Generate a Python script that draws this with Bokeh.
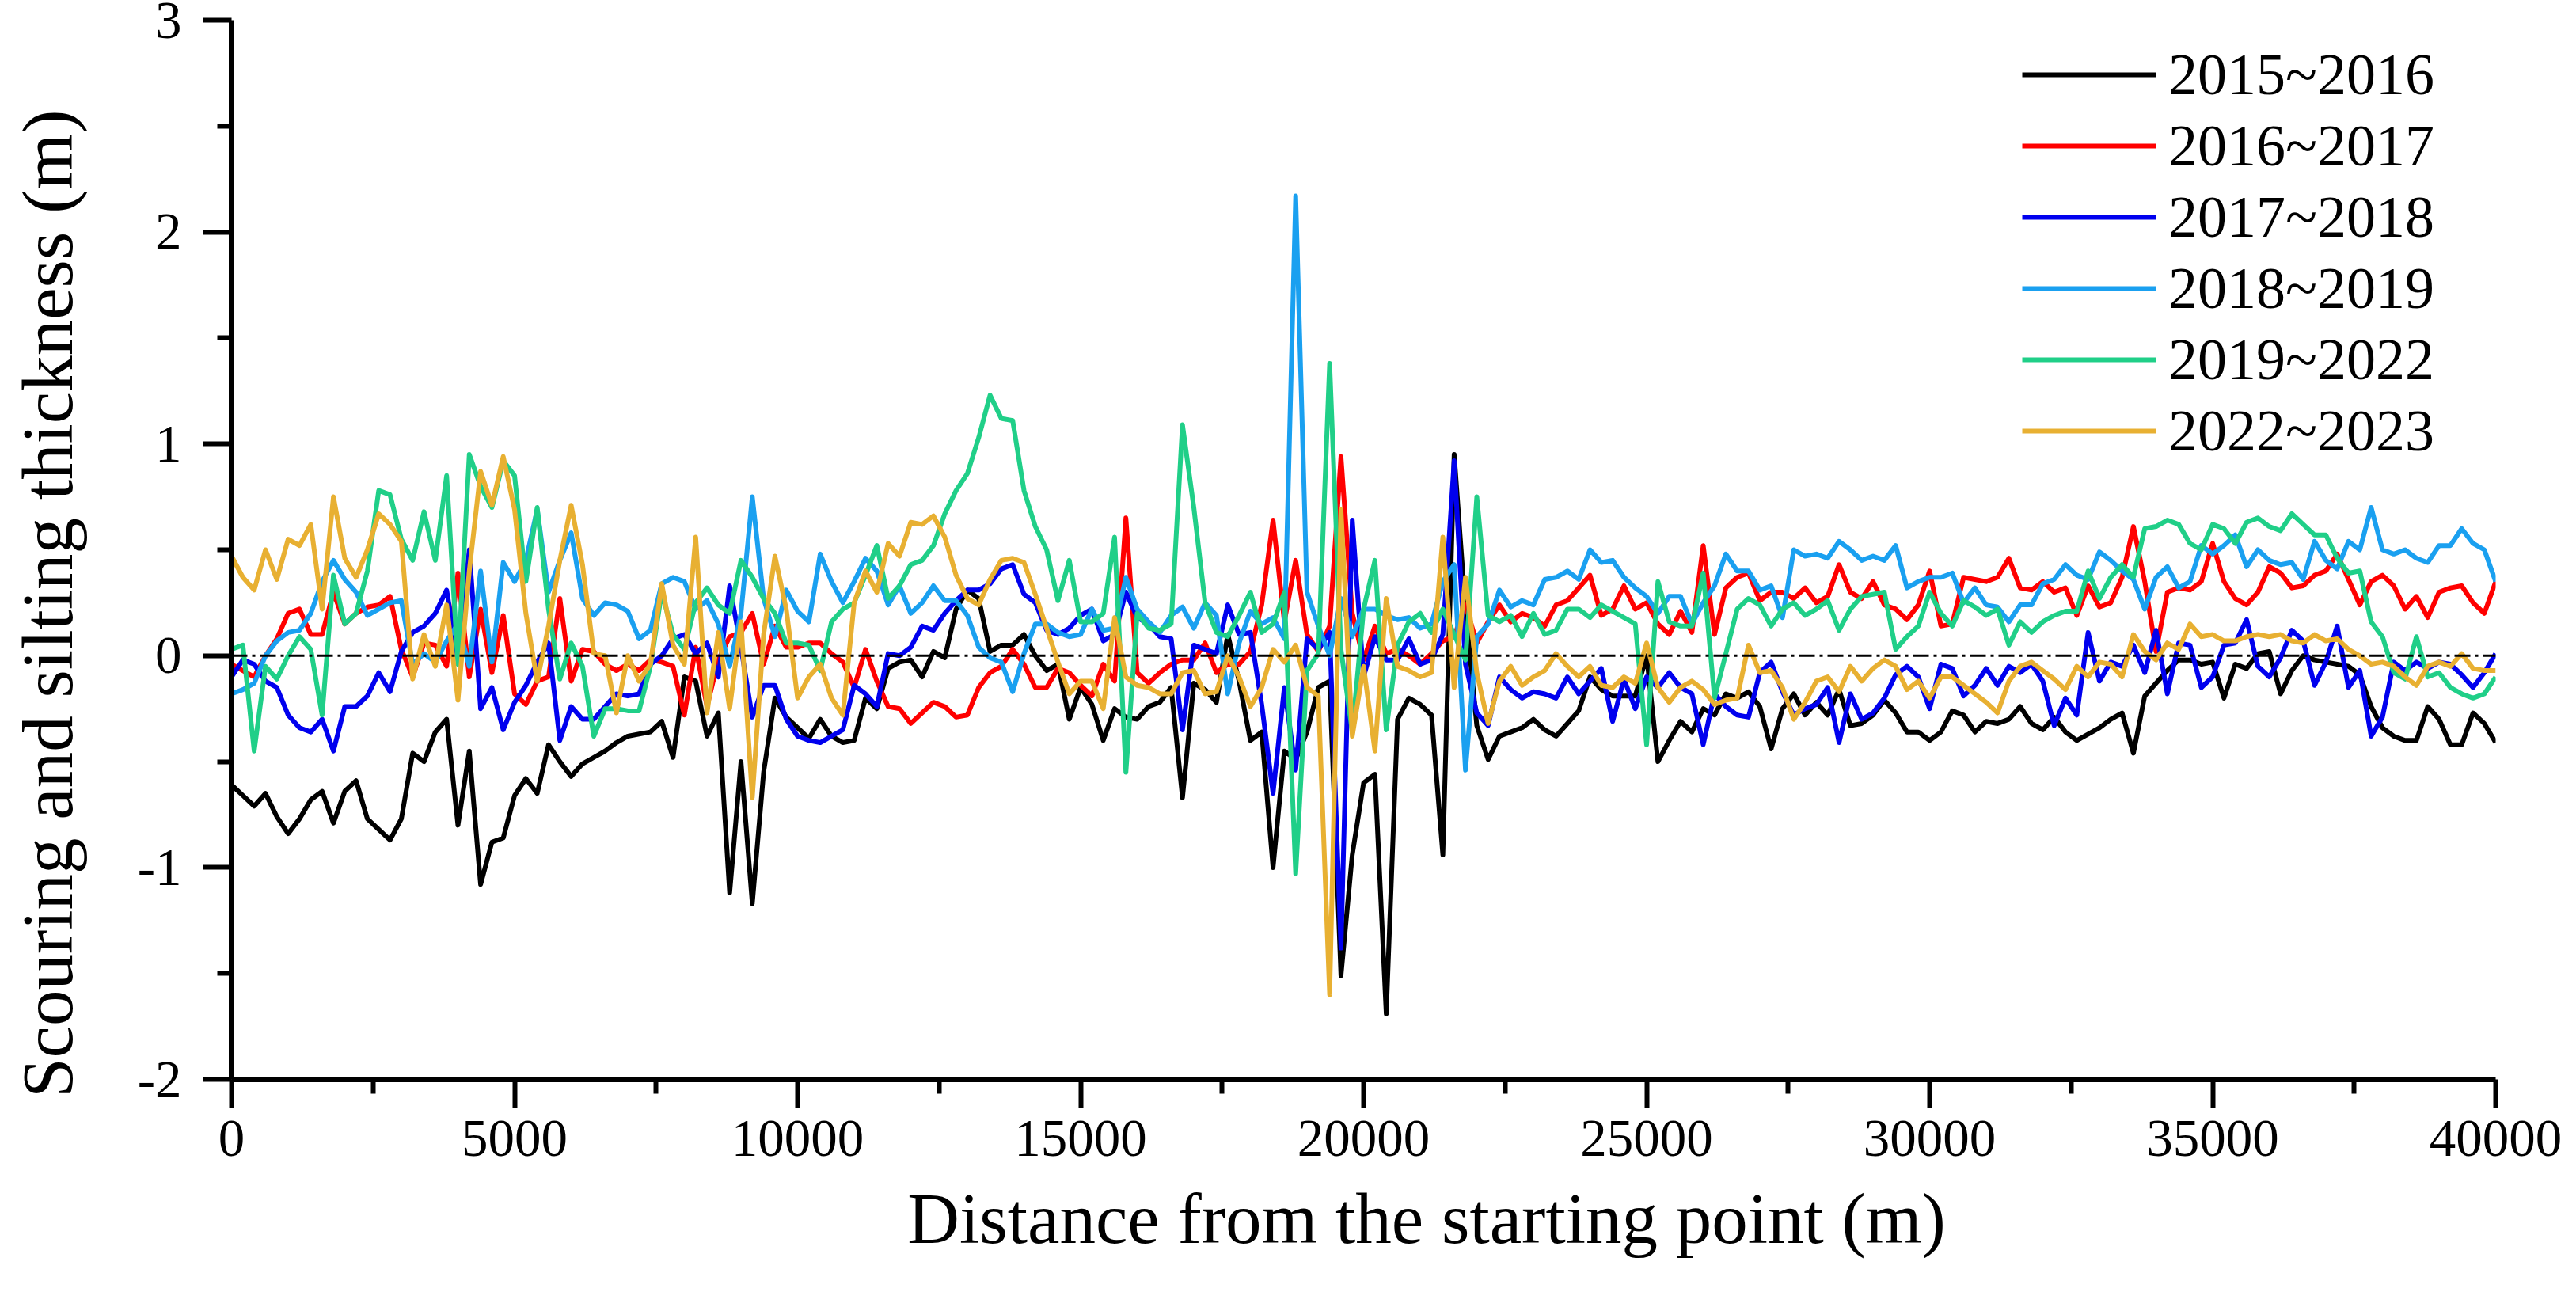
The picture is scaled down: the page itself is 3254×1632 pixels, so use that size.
from bokeh.plotting import figure
from bokeh.models import Range1d, FixedTicker, Span
from bokeh.embed import file_html
from bokeh.resources import INLINE

# Distance stations (m)
DIST = list(range(0, 40001, 200))

SERIES_NAMES = ["2015~2016", "2016~2017", "2017~2018", "2018~2019", "2019~2022", "2022~2023"]
SERIES_COLORS = ["#000000", "#FF0000", "#0000EE", "#1AA0F0", "#20CF88", "#E8B032"]

S_2015_2016 = [
    -0.61, -0.66, -0.71, -0.65, -0.76, -0.84, -0.77, -0.68, -0.64, -0.79, -0.64, -0.59, -0.77, -0.82, -0.87, -0.77, -0.46, -0.50, -0.36, -0.30, -0.80, -0.45, -1.08, -0.88, -0.86,
    -0.66, -0.58, -0.65, -0.42, -0.50, -0.57, -0.51, -0.48, -0.45, -0.41, -0.38, -0.37, -0.36, -0.31, -0.48, -0.10, -0.12, -0.38, -0.27, -1.12, -0.50, -1.17, -0.55, -0.20, -0.29,
    -0.34, -0.39, -0.30, -0.38, -0.41, -0.40, -0.20, -0.25, -0.06, -0.03, -0.02, -0.10, 0.02, -0.01, 0.22, 0.31, 0.27, 0.02, 0.05, 0.05, 0.10, 0.00, -0.07, -0.04, -0.30,
    -0.15, -0.23, -0.40, -0.25, -0.29, -0.30, -0.24, -0.22, -0.15, -0.67, -0.13, -0.16, -0.22, 0.10, -0.12, -0.40, -0.36, -1.00, -0.45, -0.49, -0.36, -0.15, -0.12, -1.51, -0.94,
    -0.60, -0.56, -1.69, -0.30, -0.20, -0.23, -0.28, -0.94, 0.95, 0.22, -0.33, -0.49, -0.38, -0.36, -0.34, -0.30, -0.35, -0.38, -0.32, -0.26, -0.10, -0.16, -0.19, -0.19, -0.19,
    0.00, -0.50, -0.40, -0.31, -0.36, -0.25, -0.28, -0.18, -0.20, -0.17, -0.24, -0.44, -0.25, -0.18, -0.28, -0.22, -0.28, -0.16, -0.33, -0.32, -0.28, -0.21, -0.27, -0.36, -0.36,
    -0.40, -0.36, -0.26, -0.28, -0.36, -0.31, -0.32, -0.30, -0.24, -0.32, -0.35, -0.29, -0.36, -0.40, -0.37, -0.34, -0.30, -0.27, -0.46, -0.19, -0.13, -0.07, -0.02, -0.02, -0.04,
    -0.03, -0.20, -0.04, -0.06, 0.01, 0.02, -0.18, -0.07, 0.00, -0.02, -0.03, -0.04, -0.05, -0.09, -0.24, -0.34, -0.38, -0.40, -0.40, -0.24, -0.30, -0.42, -0.42, -0.27, -0.32,
    -0.41,
]

S_2016_2017 = [
    -0.04, -0.07, -0.10, 0.00, 0.08, 0.20, 0.22, 0.10, 0.10, 0.30, 0.15, 0.20, 0.23, 0.24, 0.28, 0.03, -0.10, 0.06, 0.05, -0.05, 0.39, -0.10, 0.22, -0.08, 0.19,
    -0.18, -0.23, -0.12, -0.10, 0.27, -0.12, 0.03, 0.02, -0.04, -0.07, -0.04, -0.07, -0.02, -0.03, -0.05, -0.28, 0.04, -0.24, -0.02, 0.09, 0.11, 0.20, -0.04, 0.14, 0.04,
    0.04, 0.06, 0.06, 0.01, -0.03, -0.15, 0.03, -0.12, -0.24, -0.25, -0.32, -0.27, -0.22, -0.24, -0.29, -0.28, -0.15, -0.08, -0.05, 0.03, -0.04, -0.15, -0.15, -0.06, -0.08,
    -0.14, -0.19, -0.04, -0.12, 0.65, -0.08, -0.13, -0.08, -0.04, -0.02, -0.02, 0.06, -0.08, -0.04, -0.04, 0.02, 0.24, 0.64, 0.16, 0.45, 0.10, 0.02, 0.14, 0.94, 0.20,
    -0.02, 0.14, 0.01, 0.03, 0.00, -0.04, 0.01, 0.07, 0.09, 0.24, 0.06, 0.16, 0.24, 0.16, 0.20, 0.18, 0.14, 0.24, 0.26, 0.32, 0.38, 0.19, 0.22, 0.33, 0.22,
    0.25, 0.15, 0.10, 0.21, 0.11, 0.52, 0.10, 0.32, 0.37, 0.39, 0.26, 0.30, 0.30, 0.27, 0.32, 0.25, 0.28, 0.43, 0.30, 0.27, 0.35, 0.24, 0.22, 0.17, 0.24,
    0.40, 0.14, 0.15, 0.37, 0.36, 0.35, 0.37, 0.46, 0.32, 0.31, 0.35, 0.30, 0.32, 0.19, 0.33, 0.23, 0.25, 0.37, 0.61, 0.35, 0.02, 0.30, 0.32, 0.31, 0.35,
    0.53, 0.35, 0.27, 0.24, 0.30, 0.42, 0.39, 0.32, 0.33, 0.38, 0.40, 0.48, 0.36, 0.24, 0.35, 0.38, 0.33, 0.22, 0.28, 0.18, 0.30, 0.32, 0.33, 0.25, 0.20,
    0.35,
]

S_2017_2018 = [
    -0.10, -0.02, -0.04, -0.12, -0.15, -0.28, -0.34, -0.36, -0.30, -0.45, -0.24, -0.24, -0.19, -0.08, -0.17, 0.02, 0.11, 0.14, 0.20, 0.31, -0.02, 0.50, -0.25, -0.15, -0.35,
    -0.22, -0.14, -0.03, 0.06, -0.40, -0.24, -0.30, -0.30, -0.24, -0.18, -0.19, -0.18, -0.04, 0.00, 0.08, 0.10, 0.01, 0.06, -0.10, 0.33, 0.04, -0.29, -0.14, -0.14, -0.30,
    -0.38, -0.40, -0.41, -0.38, -0.35, -0.14, -0.18, -0.24, 0.01, 0.00, 0.04, 0.14, 0.12, 0.20, 0.26, 0.31, 0.31, 0.34, 0.41, 0.43, 0.29, 0.25, 0.12, 0.10, 0.13,
    0.19, 0.22, 0.07, 0.10, 0.30, 0.18, 0.15, 0.09, 0.08, -0.35, 0.05, 0.03, 0.01, 0.24, 0.10, 0.11, -0.23, -0.65, -0.15, -0.54, 0.08, 0.03, 0.11, -1.38, 0.64,
    -0.10, 0.09, -0.02, -0.02, 0.08, -0.04, -0.02, 0.10, 0.92, -0.04, -0.27, -0.33, -0.10, -0.16, -0.20, -0.17, -0.18, -0.20, -0.10, -0.18, -0.12, -0.06, -0.31, -0.11, -0.25,
    -0.10, -0.15, -0.08, -0.15, -0.18, -0.42, -0.18, -0.24, -0.28, -0.29, -0.08, -0.03, -0.17, -0.28, -0.25, -0.23, -0.15, -0.41, -0.18, -0.30, -0.27, -0.20, -0.09, -0.05, -0.10,
    -0.25, -0.04, -0.06, -0.19, -0.14, -0.06, -0.14, -0.05, -0.08, -0.04, -0.12, -0.33, -0.20, -0.28, 0.11, -0.12, -0.03, -0.05, 0.05, -0.08, 0.12, -0.18, 0.06, 0.05, -0.15,
    -0.10, 0.05, 0.06, 0.17, -0.05, -0.10, -0.01, 0.12, 0.07, -0.14, -0.03, 0.14, -0.15, -0.07, -0.38, -0.29, -0.03, -0.07, -0.03, -0.06, -0.03, -0.04, -0.09, -0.15, -0.08,
    0.01,
]

S_2018_2019 = [
    -0.18, -0.16, -0.13, 0.00, 0.07, 0.11, 0.12, 0.20, 0.35, 0.45, 0.36, 0.30, 0.19, 0.22, 0.25, 0.26, -0.04, 0.01, -0.03, 0.07, 0.15, -0.05, 0.40, -0.03, 0.44,
    0.35, 0.45, 0.69, 0.30, 0.45, 0.58, 0.27, 0.19, 0.25, 0.24, 0.21, 0.08, 0.12, 0.34, 0.37, 0.35, 0.22, 0.26, 0.15, -0.05, 0.20, 0.75, 0.27, 0.09, 0.31,
    0.21, 0.16, 0.48, 0.35, 0.25, 0.35, 0.46, 0.40, 0.24, 0.33, 0.20, 0.25, 0.33, 0.26, 0.26, 0.19, 0.04, -0.01, -0.03, -0.17, 0.01, 0.15, 0.15, 0.11, 0.09,
    0.10, 0.22, 0.12, 0.13, 0.37, 0.22, 0.16, 0.11, 0.19, 0.23, 0.13, 0.25, 0.19, -0.18, 0.06, 0.21, 0.15, 0.18, 0.08, 2.17, 0.30, 0.14, 0.00, 0.27, 0.09,
    0.22, 0.22, 0.19, 0.17, 0.18, 0.13, 0.15, 0.35, 0.43, -0.54, 0.09, 0.15, 0.31, 0.23, 0.26, 0.24, 0.36, 0.37, 0.40, 0.36, 0.50, 0.44, 0.45, 0.37, 0.32,
    0.28, 0.20, 0.28, 0.28, 0.15, 0.25, 0.33, 0.48, 0.40, 0.40, 0.31, 0.33, 0.18, 0.50, 0.47, 0.48, 0.46, 0.54, 0.50, 0.45, 0.47, 0.45, 0.52, 0.32, 0.35,
    0.37, 0.37, 0.39, 0.25, 0.32, 0.24, 0.23, 0.16, 0.24, 0.24, 0.34, 0.36, 0.43, 0.38, 0.36, 0.49, 0.45, 0.40, 0.36, 0.22, 0.37, 0.42, 0.32, 0.35, 0.52,
    0.48, 0.52, 0.57, 0.42, 0.50, 0.45, 0.43, 0.44, 0.36, 0.54, 0.45, 0.41, 0.54, 0.50, 0.70, 0.50, 0.48, 0.50, 0.46, 0.44, 0.52, 0.52, 0.60, 0.53, 0.50,
    0.35,
]

S_2019_2022 = [
    0.03, 0.05, -0.45, -0.05, -0.11, 0.00, 0.09, 0.03, -0.28, 0.38, 0.15, 0.20, 0.40, 0.78, 0.76, 0.55, 0.45, 0.68, 0.45, 0.85, -0.04, 0.95, 0.80, 0.70, 0.92,
    0.85, 0.35, 0.70, 0.22, -0.11, 0.06, -0.05, -0.38, -0.25, -0.25, -0.26, -0.26, -0.05, 0.30, 0.10, 0.03, 0.25, 0.32, 0.24, 0.20, 0.45, 0.37, 0.27, 0.20, 0.06,
    0.06, 0.05, -0.07, 0.16, 0.22, 0.25, 0.38, 0.52, 0.27, 0.33, 0.43, 0.45, 0.52, 0.67, 0.78, 0.86, 1.03, 1.23, 1.12, 1.11, 0.78, 0.61, 0.50, 0.26, 0.45,
    0.16, 0.16, 0.20, 0.56, -0.55, 0.20, 0.13, 0.12, 0.15, 1.09, 0.70, 0.25, 0.11, 0.09, 0.19, 0.30, 0.11, 0.15, 0.30, -1.03, -0.07, 0.01, 1.38, 0.03, -0.36,
    0.22, 0.45, -0.35, 0.05, 0.16, 0.20, 0.11, 0.22, 0.10, -0.02, 0.75, 0.19, 0.16, 0.19, 0.09, 0.20, 0.10, 0.12, 0.22, 0.22, 0.18, 0.24, 0.21, 0.18, 0.15,
    -0.42, 0.35, 0.16, 0.14, 0.14, 0.39, -0.20, 0.01, 0.22, 0.27, 0.24, 0.14, 0.22, 0.25, 0.19, 0.22, 0.26, 0.12, 0.22, 0.28, 0.29, 0.30, 0.03, 0.09, 0.14,
    0.30, 0.20, 0.14, 0.26, 0.23, 0.19, 0.22, 0.05, 0.16, 0.11, 0.16, 0.19, 0.21, 0.21, 0.40, 0.27, 0.37, 0.43, 0.37, 0.60, 0.61, 0.64, 0.62, 0.53, 0.50,
    0.62, 0.60, 0.53, 0.63, 0.65, 0.61, 0.59, 0.67, 0.62, 0.57, 0.57, 0.46, 0.39, 0.40, 0.16, 0.09, -0.08, -0.11, 0.09, -0.10, -0.08, -0.15, -0.18, -0.20, -0.18,
    -0.10,
]

S_2022_2023 = [
    0.47, 0.37, 0.31, 0.50, 0.36, 0.55, 0.52, 0.62, 0.22, 0.75, 0.46, 0.37, 0.50, 0.67, 0.62, 0.54, -0.11, 0.10, -0.05, 0.24, -0.21, 0.40, 0.87, 0.71, 0.94,
    0.69, 0.20, -0.12, 0.14, 0.45, 0.71, 0.43, 0.01, 0.00, -0.27, 0.00, -0.12, -0.04, 0.34, 0.05, -0.04, 0.56, -0.27, 0.11, -0.25, 0.16, -0.67, 0.10, 0.47, 0.22,
    -0.20, -0.10, -0.04, -0.20, -0.28, 0.25, 0.40, 0.30, 0.53, 0.47, 0.63, 0.62, 0.66, 0.56, 0.38, 0.27, 0.24, 0.36, 0.45, 0.46, 0.44, 0.29, 0.13, -0.03, -0.18,
    -0.12, -0.12, -0.25, 0.18, -0.10, -0.14, -0.15, -0.18, -0.18, -0.08, -0.07, -0.18, -0.17, 0.00, -0.10, -0.24, -0.15, 0.03, -0.03, 0.05, -0.15, -0.19, -1.60, 0.69, -0.38,
    -0.05, -0.45, 0.27, -0.05, -0.07, -0.10, -0.08, 0.56, -0.15, 0.37, -0.08, -0.32, -0.12, -0.05, -0.14, -0.10, -0.07, 0.01, -0.05, -0.10, -0.05, -0.14, -0.15, -0.10, -0.13,
    0.06, -0.15, -0.22, -0.15, -0.12, -0.16, -0.23, -0.21, -0.20, 0.05, -0.08, -0.07, -0.15, -0.30, -0.22, -0.12, -0.10, -0.17, -0.05, -0.12, -0.06, -0.02, -0.05, -0.16, -0.12,
    -0.20, -0.10, -0.10, -0.14, -0.18, -0.22, -0.27, -0.12, -0.05, -0.03, -0.07, -0.11, -0.16, -0.05, -0.10, -0.03, -0.04, -0.10, 0.10, 0.02, -0.02, 0.06, 0.03, 0.15, 0.09,
    0.10, 0.07, 0.07, 0.09, 0.10, 0.09, 0.10, 0.07, 0.06, 0.10, 0.07, 0.08, 0.03, 0.00, -0.04, -0.03, -0.05, -0.10, -0.14, -0.05, -0.03, -0.05, 0.01, -0.06, -0.07,
    -0.07,
]

X_TICKS = [0, 5000, 10000, 15000, 20000, 25000, 30000, 35000, 40000]
X_MINOR = [2500, 7500, 12500, 17500, 22500, 27500, 32500, 37500]
Y_TICKS = [-2, -1, 0, 1, 2, 3]
Y_MINOR = [-1.5, -0.5, 0.5, 1.5, 2.5]
X_TITLE = "Distance from the starting point (m)"
Y_TITLE = "Scouring and silting thickness (m)"

FONT = "Liberation Serif"
NBSP = "\u00a0"

p = figure(width=3238, height=1616, output_backend="svg", toolbar_location=None,
           x_range=Range1d(0, 40000), y_range=Range1d(-2, 3),
           min_border_left=292, min_border_right=86, min_border_top=25, min_border_bottom=253)
p.outline_line_color = None
p.xgrid.visible = False
p.ygrid.visible = False
p.background_fill_color = "white"
p.border_fill_color = "white"

for ax in (p.xaxis[0], p.yaxis[0]):
    ax.axis_line_width = 7
    ax.axis_line_color = "black"
    ax.major_tick_line_width = 6
    ax.minor_tick_line_width = 6
    ax.major_tick_line_color = "black"
    ax.minor_tick_line_color = "black"
    ax.major_tick_out = 36
    ax.major_tick_in = 0
    ax.minor_tick_out = 18
    ax.minor_tick_in = 0
    ax.major_label_text_font = FONT
    ax.major_label_text_font_size = "67px"
    ax.major_label_text_color = "black"
    ax.axis_label_text_font = FONT
    ax.axis_label_text_font_size = "91px"
    ax.axis_label_text_font_style = "normal"
    ax.axis_label_text_color = "black"

p.xaxis[0].ticker = FixedTicker(ticks=X_TICKS, minor_ticks=X_MINOR)
p.yaxis[0].ticker = FixedTicker(ticks=Y_TICKS, minor_ticks=Y_MINOR)
p.xaxis[0].major_label_standoff = 16
p.yaxis[0].major_label_standoff = 27
p.xaxis[0].major_label_overrides = {t: str(t) for t in X_TICKS}
p.yaxis[0].major_label_overrides = {t: str(t) for t in Y_TICKS}

# titles are offset from the frame centre in the original; padding shifts them
p.xaxis[0].axis_label = NBSP * 7 + X_TITLE
p.xaxis[0].axis_label_standoff = 26
p.yaxis[0].axis_label = Y_TITLE + NBSP * 6
p.yaxis[0].axis_label_standoff = 60

all_series = [S_2015_2016, S_2016_2017, S_2017_2018, S_2018_2019, S_2019_2022, S_2022_2023]
for name, vals, color in zip(SERIES_NAMES, all_series, SERIES_COLORS):
    p.line(DIST, vals, line_color=color, line_width=6, line_join="round", legend_label=name)

zero = Span(location=0, dimension="width", line_color="black", line_width=3, line_dash="20 6 4 6")
p.add_layout(zero)

leg = p.legend[0]
leg.location = (2262, 774)
leg.glyph_width = 170
leg.glyph_height = 90
leg.label_height = 90
leg.spacing = 0
leg.padding = 0
leg.margin = 0
leg.label_standoff = 15
leg.label_text_font = FONT
leg.label_text_font_size = "74px"
leg.label_text_color = "black"
leg.border_line_color = None
leg.background_fill_alpha = 0

open("out.html", "w").write(file_html(p, INLINE))
